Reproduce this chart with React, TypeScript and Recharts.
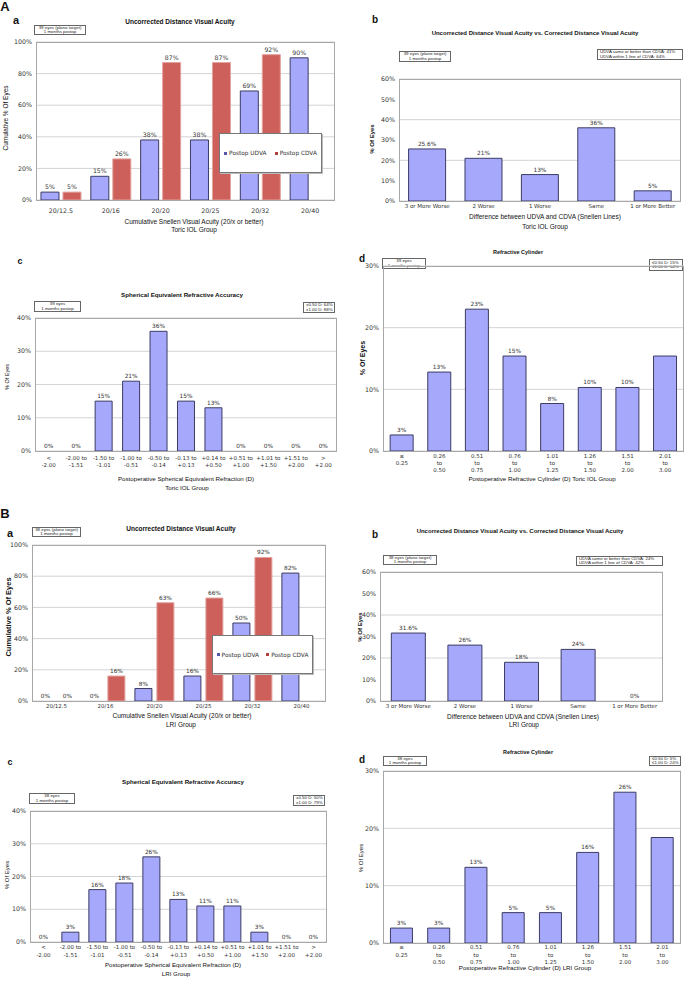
import React from "react";
import { BarChart, Bar, Cell, XAxis, YAxis, CartesianGrid, LabelList } from "recharts";

const SANS = "'Liberation Sans', Arial, sans-serif";
const TICK = "'DejaVu Sans', Verdana, sans-serif";
const BLUE = "#a6a8fb";
const BLUE_EDGE = "#3c3c64";
const RED = "#cd605b";
const RED_EDGE = "#e2a29e";

// ---- data ----
const acuityCats = ["20/12.5", "20/16", "20/20", "20/25", "20/32", "20/40"];
const acuityTicks = [0, 20, 40, 60, 80, 100];
const toricUdva = [5, 15, 38, 38, 69, 90];
const toricCdva = [5, 26, 87, 87, 92, null];
const lriUdva = [0, 0, 8, 16, 50, 82];
const lriCdva = [0, 16, 63, 66, 92, null];

const diffCats = ["3 or More Worse", "2 Worse", "1 Worse", "Same", "1 or More Better"];
const diffTicks = [0, 10, 20, 30, 40, 50, 60];
const toricDiff = [25.6, 21, 13, 36, 5];
const toricDiffLabels = ["25.6%", "21%", "13%", "36%", "5%"];
const lriDiff = [31.6, 26, 18, 24, 0];
const lriDiffLabels = ["31.6%", "26%", "18%", "24%", "0%"];

const seCats = [
  "<\n-2.00", "-2.00 to\n-1.51", "-1.50 to\n-1.01", "-1.00 to\n-0.51", "-0.50 to\n-0.14",
  "-0.13 to\n+0.13", "+0.14 to\n+0.50", "+0.51 to\n+1.00", "+1.01 to\n+1.50", "+1.51 to\n+2.00", ">\n+2.00",
];
const seTicks = [0, 10, 20, 30, 40];
const toricSe = [0, 0, 15, 21, 36, 15, 13, 0, 0, 0, 0];
const lriSe = [0, 3, 16, 18, 26, 13, 11, 11, 3, 0, 0];

const cylCats = [
  "≤\n0.25", "0.26\nto\n0.50", "0.51\nto\n0.75", "0.76\nto\n1.00",
  "1.01\nto\n1.25", "1.26\nto\n1.50", "1.51\nto\n2.00", "2.01\nto\n3.00",
];
const cylTicks = [0, 10, 20, 30];
const toricCyl = [2.6, 12.8, 23, 15.4, 7.7, 10.3, 10.3, 15.4];
const toricCylLabels = ["3%", "13%", "23%", "15%", "8%", "10%", "10%", ""];
const lriCyl = [2.6, 2.6, 13.2, 5.3, 5.3, 15.8, 26.3, 18.4];
const lriCylLabels = ["3%", "3%", "13%", "5%", "5%", "16%", "26%", ""];

const pct = (vals: (number | null)[]) => vals.map((v) => (v == null ? "" : `${v}%`));

type Series = { key: string; values: (number | null)[]; labels: string[]; fill: string; stroke: string };

function Txt({ x, y, size, bold, rotate, children }: any) {
  return (
    <div
      style={{
        position: "absolute",
        left: x,
        top: y,
        transform: `translate(-50%, -50%)${rotate ? " rotate(-90deg)" : ""}`,
        fontSize: size,
        fontWeight: bold ? 700 : 400,
        fontFamily: SANS,
        whiteSpace: "nowrap",
        lineHeight: 1,
        color: "#111",
      }}
    >
      {children}
    </div>
  );
}

function InfoBox({ box, lines, size = 4.4, align = "center" }: any) {
  const [x1, y1, x2, y2] = box;
  return (
    <div
      style={{
        position: "absolute",
        left: x1,
        top: y1,
        width: x2 - x1,
        height: y2 - y1,
        boxSizing: "border-box",
        border: "1px solid #666",
        background: "#fff",
        fontFamily: SANS,
        fontSize: size,
        lineHeight: 1,
        textAlign: align,
        padding: "0 2px",
        whiteSpace: "nowrap",
        overflow: "hidden",
        color: "#222",
        display: "flex",
        flexDirection: "column",
        justifyContent: "center",
      }}
    >
      {lines.map((l: string, i: number) => (
        <div key={i}>{l}</div>
      ))}
    </div>
  );
}

function LegendBox({ box }: any) {
  const [x1, y1, x2, y2] = box;
  const item = (color: string, text: string) => (
    <span style={{ display: "inline-flex", alignItems: "center", gap: 2 }}>
      <span style={{ width: 3, height: 3, background: color, display: "inline-block" }} />
      {text}
    </span>
  );
  return (
    <div
      style={{
        position: "absolute",
        left: x1,
        top: y1,
        width: x2 - x1,
        height: y2 - y1,
        boxSizing: "border-box",
        border: "1px solid #777",
        background: "#fff",
        boxShadow: "1px 1px 0 #bbb",
        display: "flex",
        alignItems: "center",
        justifyContent: "space-around",
        fontFamily: TICK,
        fontSize: 5.8,
        color: "#333",
      }}
    >
      {item("#5555aa", "Postop UDVA")}
      {item("#b04040", "Postop CDVA")}
    </div>
  );
}

function BarPanel({ cats, series, plot, ticks, catGap, barGap = 4, tickDy, tickLh = 7, tickSize = 5.5, yTickSize = 6.3, labelSize = 5.8 }: any) {
  const [x1, y1, x2, y2] = plot;
  const YW = 30, TOP = 8, RIGHT = 4, XH = 30;
  const data = cats.map((c: string, i: number) => {
    const row: any = { cat: c };
    series.forEach((s: Series) => {
      row[s.key] = s.values[i];
      row[s.key + "Lbl"] = s.labels[i];
    });
    return row;
  });
  const renderLabel = (p: any) => {
    const vb = p.viewBox ?? p;
    const x = vb.x ?? p.x;
    const y = vb.y ?? p.y;
    const w = vb.width ?? p.width;
    if (p.value == null || p.value === "" || x == null) return null;
    return (
      <text x={x + w / 2} y={y - 3} textAnchor="middle" fontSize={labelSize} fontFamily={TICK} fill="#333">
        {p.value}
      </text>
    );
  };
  const renderTick = (p: any) => {
    const lines = String(p.payload.value).split("\n");
    return (
      <text x={p.x} y={p.y + tickDy} textAnchor="middle" fontSize={tickSize} fontFamily={TICK} fill="#333">
        {lines.map((l, i) => (
          <tspan key={i} x={p.x} dy={i === 0 ? 0 : tickLh}>
            {l}
          </tspan>
        ))}
      </text>
    );
  };
  return (
    <>
      <div style={{ position: "absolute", left: x1 - YW, top: y1 - TOP }}>
        <BarChart
          width={x2 - x1 + YW + RIGHT}
          height={y2 - y1 + TOP + XH}
          data={data}
          margin={{ top: TOP, right: RIGHT, left: 0, bottom: 0 }}
          barCategoryGap={catGap}
          barGap={barGap}
        >
          <CartesianGrid vertical={false} stroke="#d4d4d4" />
          <XAxis dataKey="cat" height={XH} interval={0} axisLine={false} tickLine={false} tickSize={0} tickMargin={0} tick={renderTick} />
          <YAxis
            type="number"
            domain={[0, ticks[ticks.length - 1]]}
            ticks={ticks}
            width={YW}
            axisLine={false}
            tickLine={false}
            tickSize={0}
            tickMargin={4}
            tickFormatter={(v: number) => `${v}%`}
            tick={{ fontSize: yTickSize, fontFamily: TICK, fill: "#333" }}
          />
          {series.map((s: Series) => (
            <Bar
              key={s.key}
              dataKey={s.key}
              fill={s.fill}
              stroke={s.stroke}
              strokeWidth={1}
              minPointSize={(v: any) => (v === 0 ? 0.01 : 0)}
              isAnimationActive={false}
            >
              {s.values.map((v, i) => (
                <Cell key={i} stroke={v === 0 ? "none" : s.stroke} />
              ))}
              <LabelList dataKey={s.key + "Lbl"} content={renderLabel} />
            </Bar>
          ))}
        </BarChart>
      </div>
      <div
        style={{
          position: "absolute",
          left: x1,
          top: y1,
          width: x2 - x1,
          height: y2 - y1 + 1,
          boxSizing: "border-box",
          border: "1px solid #a8a8a8",
          pointerEvents: "none",
        }}
      />
    </>
  );
}

const blue = (key: string, values: (number | null)[], labels: string[]): Series => ({ key, values, labels, fill: BLUE, stroke: BLUE_EDGE });
const red = (key: string, values: (number | null)[], labels: string[]): Series => ({ key, values, labels, fill: RED, stroke: RED_EDGE });

export default function App() {
  return (
    <div style={{ position: "absolute", left: 0, top: 0, width: 685, height: 981, overflow: "hidden", background: "#fff" }}>
      {/* ---------- A ---------- */}
      <Txt x={5} y={6} size={13} bold>A</Txt>
      <Txt x={16} y={20} size={11} bold>a</Txt>
      <Txt x={180} y={22} size={6.5} bold>Uncorrected Distance Visual Acuity</Txt>
      <InfoBox box={[34, 25, 86, 35]} lines={["39 eyes (plano target)", "1 months postop"]} />
      <BarPanel
        cats={acuityCats}
        series={[blue("udva", toricUdva, pct(toricUdva)), red("cdva", toricCdva, pct(toricCdva))]}
        plot={[36, 42, 335, 200]}
        ticks={acuityTicks}
        catGap="10%"
        barGap={4}
        tickDy={13}
        tickSize={6.3}
        labelSize={6.2}
      />
      <LegendBox box={[219, 133, 322, 173]} />
      <Txt x={6} y={118} size={6.5} rotate>Cumulative % Of Eyes</Txt>
      <Txt x={194} y={222} size={6.5}>Cumulative Snellen Visual Acuity (20/x or better)</Txt>
      <Txt x={194} y={230} size={6.5}>Toric IOL Group</Txt>

      <Txt x={375} y={20} size={10} bold>b</Txt>
      <Txt x={535} y={33} size={6} bold>Uncorrected Distance Visual Acuity vs. Corrected Distance Visual Acuity</Txt>
      <InfoBox box={[399, 51, 451, 62]} lines={["39 eyes (plano target)", "1 months postop"]} />
      <InfoBox box={[597, 49, 683, 60]} align="left" lines={["UDVA same or better than CDVA: 41%", "UDVA within 1 line of CDVA: 64%"]} />
      <BarPanel cats={diffCats} series={[blue("d", toricDiff, toricDiffLabels)]} plot={[399, 79, 681, 201]} ticks={diffTicks} catGap="17%" tickDy={7} />
      <Txt x={372} y={139} size={6} bold rotate>% Of Eyes</Txt>
      <Txt x={545} y={217} size={6.5}>Difference between  UDVA and CDVA (Snellen Lines)</Txt>
      <Txt x={545} y={227} size={6.5}>Toric IOL Group</Txt>

      <Txt x={20} y={261} size={9} bold>c</Txt>
      <Txt x={182} y={295} size={6.2} bold>Spherical Equivalent Refractive Accuracy</Txt>
      <InfoBox box={[34, 301, 81, 312]} lines={["39 eyes", "1 months postop"]} />
      <InfoBox box={[303, 302, 335, 313]} align="left" lines={["±0.50 D: 64%", "±1.00 D: 88%"]} />
      <BarPanel cats={seCats} series={[blue("s", toricSe, pct(toricSe))]} plot={[35, 318, 337, 451]} ticks={seTicks} catGap="19%" tickDy={9} tickLh={7} />
      <Txt x={8} y={377} size={5.5} rotate>% Of Eyes</Txt>
      <Txt x={186} y={479} size={6.2}>Postoperative Spherical Equivalent Refraction (D)</Txt>
      <Txt x={187} y={488} size={6.2}>Toric IOL Group</Txt>

      <Txt x={362} y={259} size={10} bold>d</Txt>
      <Txt x={518} y={253} size={5.5} bold>Refractive Cylinder</Txt>
      <InfoBox box={[382, 258, 426, 269]} lines={["39 eyes", "1 months postop"]} />
      <InfoBox box={[649, 259, 683, 271]} align="left" lines={["≤0.50 D: 15%", "≤1.00 D: 54%"]} />
      <BarPanel cats={cylCats} series={[blue("c", toricCyl, toricCylLabels)]} plot={[383, 266, 684, 451]} ticks={cylTicks} catGap="19%" tickDy={7} tickLh={7} />
      <Txt x={362} y={358} size={7} bold rotate>% Of Eyes</Txt>
      <Txt x={542} y={479} size={6.2}>Postoperative Refractive Cylinder (D) Toric IOL Group</Txt>

      {/* ---------- B ---------- */}
      <Txt x={5} y={513} size={13} bold>B</Txt>
      <Txt x={10} y={533} size={11} bold>a</Txt>
      <Txt x={181} y={529} size={6.5} bold>Uncorrected Distance Visual Acuity</Txt>
      <InfoBox box={[32, 527, 81, 537]} lines={["38 eyes (plano target)", "1 months postop"]} />
      <BarPanel
        cats={acuityCats}
        series={[blue("udva", lriUdva, pct(lriUdva)), red("cdva", lriCdva, pct(lriCdva))]}
        plot={[32, 545, 326, 701]}
        ticks={acuityTicks}
        catGap="10%"
        barGap={5}
        tickDy={7}
      />
      <LegendBox box={[212, 635, 313, 674]} />
      <Txt x={9} y={617} size={7.5} bold rotate>Cumulative % Of Eyes</Txt>
      <Txt x={182} y={716} size={6.5}>Cumulative Snellen Visual Acuity (20/x or better)</Txt>
      <Txt x={181} y={725} size={6.5}>LRI Group</Txt>

      <Txt x={375} y={535} size={10} bold>b</Txt>
      <Txt x={520} y={531} size={6} bold>Uncorrected Distance Visual Acuity vs. Corrected Distance Visual Acuity</Txt>
      <InfoBox box={[383, 555, 437, 565]} lines={["38 eyes (plano target)", "1 months postop"]} />
      <InfoBox box={[576, 556, 663, 566]} align="left" lines={["UDVA same or better than CDVA: 24%", "UDVA within 1 line of CDVA: 42%"]} />
      <BarPanel cats={diffCats} series={[blue("d", lriDiff, lriDiffLabels)]} plot={[380, 572, 663, 701]} ticks={diffTicks} catGap="20%" tickDy={7} />
      <Txt x={360} y={627} size={6} bold rotate>% Of Eyes</Txt>
      <Txt x={523} y={717} size={6.5}>Difference between  UDVA and CDVA (Snellen Lines)</Txt>
      <Txt x={524} y={725} size={6.5}>LRI Group</Txt>

      <Txt x={10} y={762} size={9} bold>c</Txt>
      <Txt x={183} y={782} size={6.2} bold>Spherical Equivalent Refractive Accuracy</Txt>
      <InfoBox box={[29, 793, 75, 804]} lines={["38 eyes", "1 months postop"]} />
      <InfoBox box={[293, 795, 325, 806]} align="left" lines={["±0.50 D: 50%", "±1.00 D: 79%"]} />
      <BarPanel cats={seCats} series={[blue("s", lriSe, pct(lriSe))]} plot={[30, 811, 327, 942]} ticks={seTicks} catGap="18%" tickDy={7} tickLh={7.5} />
      <Txt x={7} y={875} size={6} rotate>% Of Eyes</Txt>
      <Txt x={173} y={965} size={6.2}>Postoperative Spherical Equivalent Refraction (D)</Txt>
      <Txt x={176} y={974} size={6.2}>LRI Group</Txt>

      <Txt x={362} y={760} size={10} bold>d</Txt>
      <Txt x={528} y={753} size={5.5} bold>Refractive Cylinder</Txt>
      <InfoBox box={[383, 756, 427, 766]} lines={["38 eyes", "1 months postop"]} />
      <InfoBox box={[649, 756, 681, 766]} align="left" lines={["≤0.50 D: 5%", "≤1.00 D: 24%"]} />
      <BarPanel cats={cylCats} series={[blue("c", lriCyl, lriCylLabels)]} plot={[383, 771, 681, 943]} ticks={cylTicks} catGap="20%" tickDy={6} tickLh={7.5} />
      <Txt x={361} y={858} size={6} rotate>% Of Eyes</Txt>
      <Txt x={525} y={968} size={6.2}>Postoperative Refractive Cylinder (D) LRI Group</Txt>
    </div>
  );
}
